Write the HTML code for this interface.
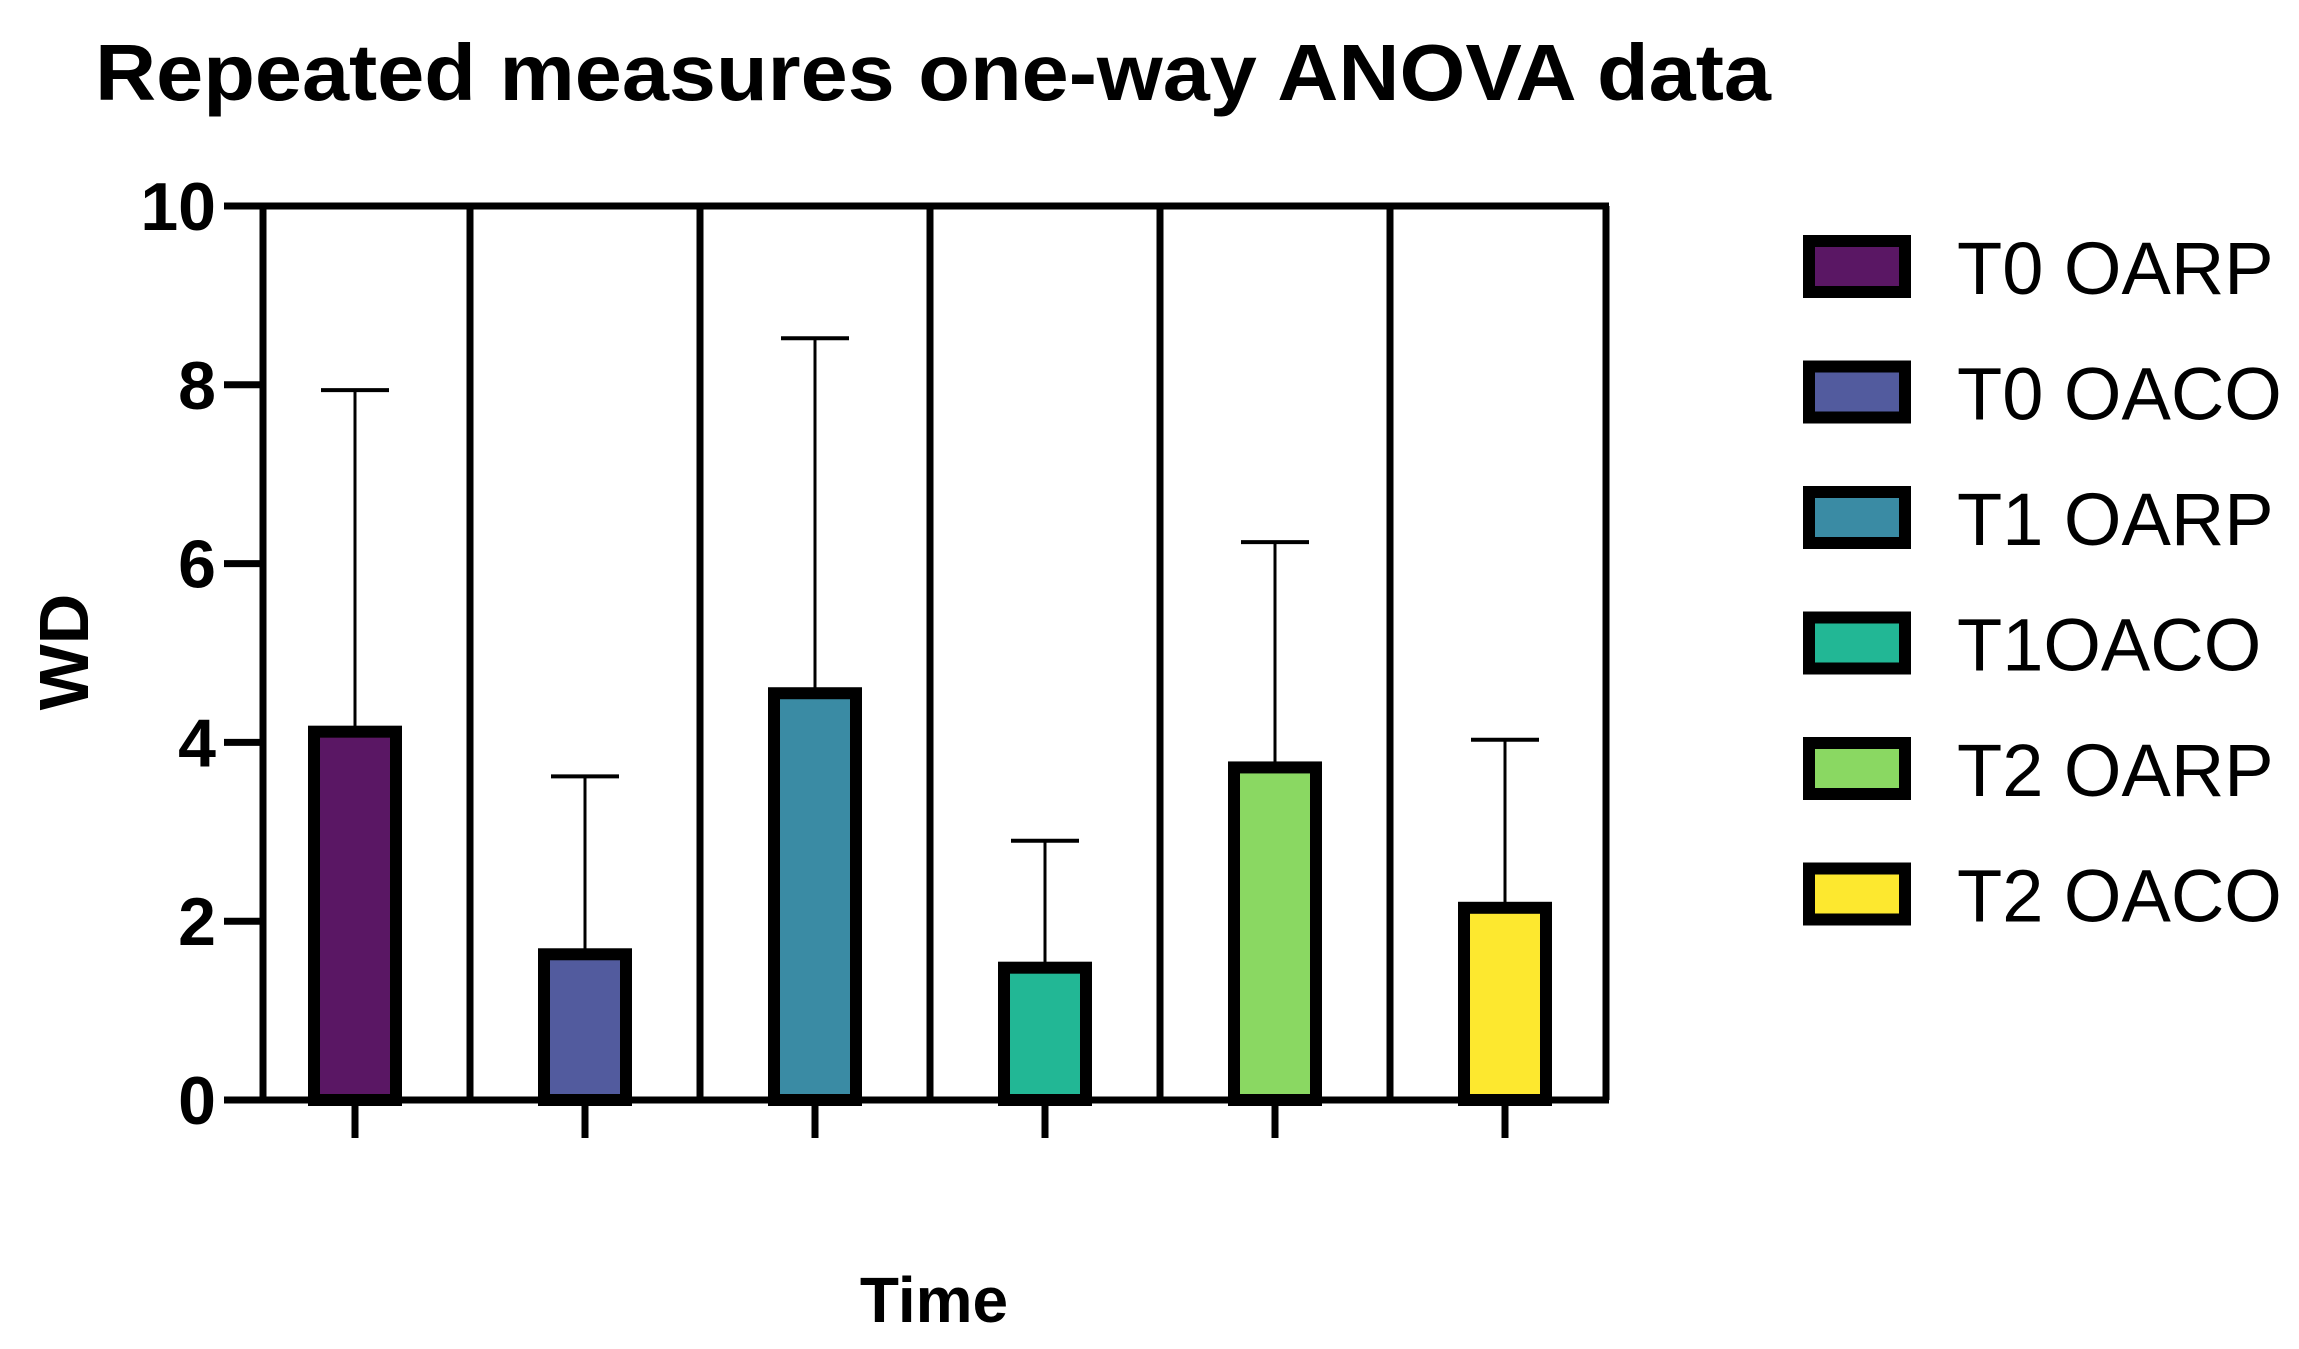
<!DOCTYPE html>
<html><head><meta charset="utf-8"><style>
html,body{margin:0;padding:0;background:#fff;}
svg{display:block;}
text{font-family:"Liberation Sans",Arial,sans-serif;}
</style></head><body>
<svg id="chart" width="2299" height="1349" viewBox="0 0 2299 1349" xmlns="http://www.w3.org/2000/svg">
<text x="95" y="100" font-size="80" font-weight="bold" textLength="1676" lengthAdjust="spacingAndGlyphs">Repeated measures one-way ANOVA data</text>
<text transform="translate(88,652) rotate(-90)" text-anchor="middle" font-size="70" font-weight="bold">WD</text>
<text x="934" y="1322" text-anchor="middle" font-size="64" font-weight="bold">Time</text>
<g id="plot"></g>
<g id="legend"></g>
</svg>
<script>
const categories = ["T0 OARP","T0 OACO","T1 OARP","T1OACO","T2 OARP","T2 OACO"];
const means = [4.12, 1.63, 4.55, 1.48, 3.72, 2.15];
const upperErrors = [7.94, 3.62, 8.52, 2.90, 6.24, 4.03];
const colors = ["#5a1764","#525b9e","#3a8ba4","#22b795","#8ad862","#fde82f"];
const yTicks = [0,2,4,6,8,10];

const NS = "http://www.w3.org/2000/svg";
const plotG = document.getElementById('plot');
const legendG = document.getElementById('legend');
const X0 = 263, X1 = 1606, Y0 = 1100, Y1 = 206;
const firstCenter = 355, step = 230;
const SW = 7;
function yScale(v){ return Y0 - (v - 0) / (10 - 0) * (Y0 - Y1); }
function xc(i){ return firstCenter + i * step; }
function mk(tag, attrs, parent){
  const e = document.createElementNS(NS, tag);
  for (const k in attrs) e.setAttribute(k, attrs[k]);
  parent.appendChild(e);
  return e;
}

for (let i = 0; i < categories.length - 1; i++) {
  const dx = (xc(i) + xc(i + 1)) / 2;
  const d = mk('line', {x1: dx, x2: dx, y1: Y1, y2: Y0, stroke: '#000', 'stroke-width': SW}, plotG);
  
  
}
const topBorder = mk('line', {x1: X0 - 3, x2: X1 + 3, y1: Y1, y2: Y1, stroke: '#000', 'stroke-width': SW}, plotG);


const rightBorder = mk('line', {x1: X1, x2: X1, y1: Y1, y2: Y0, stroke: '#000', 'stroke-width': SW}, plotG);


const yAxisLine = mk('line', {x1: X0, x2: X0, y1: Y1, y2: Y0 + 3, stroke: '#000', 'stroke-width': SW}, plotG);


const xAxisLine = mk('line', {x1: X0, x2: X1 + 3, y1: Y0, y2: Y0, stroke: '#000', 'stroke-width': SW}, plotG);



yTicks.forEach(t => {
  const tk = mk('line', {x1: 224, x2: X0, y1: yScale(t), y2: yScale(t), stroke: '#000', 'stroke-width': SW}, plotG);
  
  
  const lb = mk('text', {x: 216, y: yScale(t) + 24, 'text-anchor': 'end', 'font-size': 68, 'font-weight': 'bold'}, plotG);
  lb.textContent = t;
  
  
});

categories.forEach((c, i) => {
  const cx = xc(i);
  const eb = mk('line', {x1: cx, x2: cx, y1: yScale(upperErrors[i]), y2: yScale(means[i]), stroke: '#000', 'stroke-width': 3}, plotG);
  
  
  const cap = mk('line', {x1: cx - 34, x2: cx + 34, y1: yScale(upperErrors[i]), y2: yScale(upperErrors[i]), stroke: '#000', 'stroke-width': 4}, plotG);
  
  
  const r = mk('rect', {x: cx - 41, y: yScale(means[i]), width: 82, height: Y0 - yScale(means[i]), fill: colors[i], stroke: '#000', 'stroke-width': 12}, plotG);
  
  
  const xt = mk('line', {x1: cx, x2: cx, y1: Y0, y2: 1138, stroke: '#000', 'stroke-width': SW}, plotG);
  
  
});

categories.forEach((c, i) => {
  const ly = 235 + i * 125.5;
  const g = mk('g', {}, legendG);
  
  
  const sw = mk('rect', {x: 1809, y: ly + 6, width: 96, height: 51, fill: colors[i], stroke: '#000', 'stroke-width': 12}, g);
  
  
  const t = mk('text', {x: 1957, y: ly + 59, 'font-size': 74}, g);
  t.textContent = c;
  
  
});
</script>
</body></html>
